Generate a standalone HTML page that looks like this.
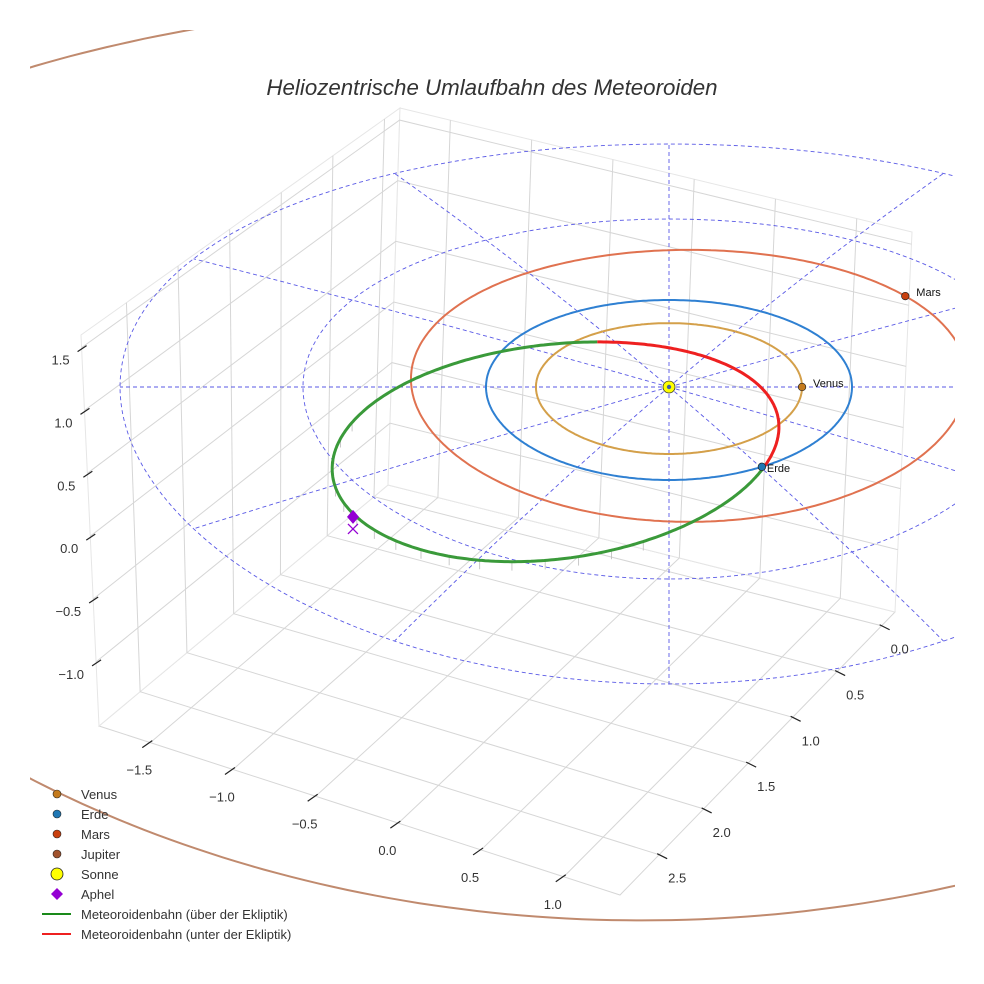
<!DOCTYPE html>
<html><head><meta charset="utf-8"><style>
html,body{margin:0;padding:0;background:#fff}
svg{display:block;font-family:"Liberation Sans",sans-serif}
</style></head><body>
<svg id="chart" width="984" height="984" viewBox="0 0 984 984" xmlns="http://www.w3.org/2000/svg">
<defs><clipPath id="clip"><rect x="30" y="30" width="925" height="925"/></clipPath></defs>
<g id="box"></g>
<g id="plot" clip-path="url(#clip)"></g>
<g id="ticks"></g>
<g id="legend"></g>
<text x="492" y="95" text-anchor="middle" font-size="22.3" font-style="italic" fill="#333">Heliozentrische Umlaufbahn des Meteoroiden</text>
</svg>
<script>
// ---- data ----
const xTicks = [-1.5, -1.0, -0.5, 0.0, 0.5, 1.0];
const yTicks = [0.0, 0.5, 1.0, 1.5, 2.0, 2.5];
const zTicks = [-1.0, -0.5, 0.0, 0.5, 1.0, 1.5];
const xTickLabels = ["\u22121.5","\u22121.0","\u22120.5","0.0","0.5","1.0"];
const yTickLabels = ["0.0","0.5","1.0","1.5","2.0","2.5"];
const zTickLabels = ["\u22121.0","\u22120.5","0.0","0.5","1.0","1.5"];
const xRange = [-1.81, 1.34];
const yRange = [-0.15, 2.94];
const zRange = [-1.51, 1.6];
const planetNames = ["Venus","Erde","Mars","Jupiter"];
const planetColors = ["#c47a1c","#1f77b4","#c9400e","#a0522d"];
const orbitColors = ["#d4a04a","#2f80d2","#e07250","#c08a6e"];
const orbitA = [0.727, 1.0, 1.52, 5.2];
const orbitDX = [0, 0, 0.11, -0.15];
const orbitDY = [0, 0, -0.09, -0.13];
const planetAngleDeg = [0, 59.5, -39, 200];
const gridRadii = [1, 2, 3];
const gridAnglesDeg = [0, 30, 60, 90, 120, 150, 180, 210, 240, 270, 300, 330];
const meteorCenter = [-0.62, 0.66];
const meteorAxis1 = [1.22, -0.26];
const meteorAxis2 = [0.04, 1.14];
const meteorBelowRange = [-1.35, 0.42];
const meteorStemT = [1.2,1.35,1.5,1.65,1.8,1.95,2.1,2.25,2.4,2.55,2.7,2.85,3.0,3.15,3.3,3.45,3.6];
const aphel = [-1.727, 1.38];

// ---- axis functions ----
const L=[99,726], B=[388,485], R=[895,612], F=[620,895];
const Lt=[81,335], Bt=[400,108], Rt=[912,232];
function lerp(a,b,t){return [a[0]+(b[0]-a[0])*t, a[1]+(b[1]-a[1])*t];}
function uX(x){return (x-xRange[0])/(xRange[1]-xRange[0]);}
function vY(y){return (yRange[1]-y)/(yRange[1]-yRange[0]);}
function wZ(z){return (z-zRange[0])/(zRange[1]-zRange[0]);}
function floorPt(x,y){const u=uX(x),v=vY(y);const a=lerp(L,F,u),b=lerp(B,R,u);return lerp(a,b,v);}
function leftWall(y,z){const v=vY(y),w=wZ(z);return lerp(lerp(L,B,v),lerp(Lt,Bt,v),w);}
function rightWall(x,z){const u=uX(x),w=wZ(z);return lerp(lerp(B,R,u),lerp(Bt,Rt,u),w);}
function project(X,Y){return [669+183*X, 387+90*Y+3*Y*Y];}

const NS="http://www.w3.org/2000/svg";
function mk(tag,attrs,parent){const e=document.createElementNS(NS,tag);for(const k in attrs)e.setAttribute(k,attrs[k]);parent.appendChild(e);return e;}
function pts(a){return a.map(p=>p[0].toFixed(1)+","+p[1].toFixed(1)).join(" ");}
const box=document.getElementById("box"), plot=document.getElementById("plot"), ticks=document.getElementById("ticks"), legend=document.getElementById("legend");
const gc="#d6d6d6";

let e;
e=mk("polygon",{points:pts([L,B,R,F]),fill:"#fff",stroke:gc,"stroke-width":1},box);


e=mk("polygon",{points:pts([L,B,Bt,Lt]),fill:"#fff",stroke:"#e6e6e6","stroke-width":1},box);


e=mk("polygon",{points:pts([B,R,Rt,Bt]),fill:"#fff",stroke:"#e6e6e6","stroke-width":1},box);


xTicks.forEach(x=>{
  e=mk("line",{x1:floorPt(x,yRange[0])[0],y1:floorPt(x,yRange[0])[1],x2:floorPt(x,yRange[1])[0],y2:floorPt(x,yRange[1])[1],stroke:gc},box);
  
  
  const a=rightWall(x,zRange[0]),b=rightWall(x,zRange[1]);
  e=mk("line",{x1:a[0],y1:a[1],x2:b[0],y2:b[1],stroke:gc},box);
  
  
});
yTicks.forEach(y=>{
  const a=floorPt(xRange[0],y),b=floorPt(xRange[1],y);
  e=mk("line",{x1:a[0],y1:a[1],x2:b[0],y2:b[1],stroke:gc},box);
  
  
  const c=leftWall(y,zRange[0]),d=leftWall(y,zRange[1]);
  e=mk("line",{x1:c[0],y1:c[1],x2:d[0],y2:d[1],stroke:gc},box);
  
  
});
zTicks.forEach(z=>{
  const a=leftWall(yRange[1],z),b=leftWall(yRange[0],z),c=rightWall(xRange[1],z);
  e=mk("polyline",{points:pts([a,b,c]),fill:"none",stroke:gc},box);
  
  
});

function tickMark(p,dx1,dy1,dx2,dy2){
  e=mk("line",{x1:p[0]+dx1,y1:p[1]+dy1,x2:p[0]+dx2,y2:p[1]+dy2,stroke:"#222","stroke-width":1.2},ticks);
  
  
}
xTicks.forEach((x,i)=>{
  const p=lerp(L,F,uX(x));
  tickMark(p,2,-2,-8,5);
  e=mk("text",{x:p[0]-11,y:p[1]+32,"text-anchor":"middle","font-size":13,fill:"#333"},ticks);
  e.textContent=xTickLabels[i];
  
  
});
yTicks.forEach((y,i)=>{
  const p=lerp(F,R,vY(y));
  tickMark(p,-2,-1,8,4);
  e=mk("text",{x:p[0]+18,y:p[1]+28,"text-anchor":"middle","font-size":13,fill:"#333"},ticks);
  e.textContent=yTickLabels[i];
  
  
});
zTicks.forEach((z,i)=>{
  const p=lerp(L,Lt,wZ(z));
  tickMark([p[0]+3,p[1]],2,-2,-7,4);
  e=mk("text",{x:p[0]-12,y:p[1]+17,"text-anchor":"end","font-size":13,fill:"#333"},ticks);
  e.textContent=zTickLabels[i];
  
  
});

const dash={fill:"none",stroke:"#5a5ae6","stroke-width":0.9,"stroke-dasharray":"4 3"};
gridRadii.forEach(r=>{
  const a=[];for(let k=0;k<=240;k++){const t=k/240*2*Math.PI;a.push(project(r*Math.cos(t),r*Math.sin(t)));}
  e=mk("polyline",Object.assign({points:pts(a)},dash),plot);
  
  
});
gridAnglesDeg.forEach(d=>{
  const t=d*Math.PI/180,a=[];const rmax=gridRadii[gridRadii.length-1];
  for(let k=0;k<=20;k++){const r=rmax*k/20;a.push(project(r*Math.cos(t),r*Math.sin(t)));}
  e=mk("polyline",Object.assign({points:pts(a)},dash),plot);
  
  
});

function orbitPt(i,t){return project(orbitDX[i]+orbitA[i]*Math.cos(t),orbitDY[i]+orbitA[i]*Math.sin(t));}
orbitA.forEach((a,i)=>{
  const arr=[];for(let k=0;k<=400;k++)arr.push(orbitPt(i,k/400*2*Math.PI));
  e=mk("polyline",{points:pts(arr),fill:"none",stroke:orbitColors[i],"stroke-width":2},plot);
  
  
});

function meteorPt(t){return project(meteorCenter[0]+meteorAxis1[0]*Math.cos(t)+meteorAxis2[0]*Math.sin(t),meteorCenter[1]+meteorAxis1[1]*Math.cos(t)+meteorAxis2[1]*Math.sin(t));}
meteorStemT.forEach(t=>{
  const p=meteorPt(t);
  e=mk("line",{x1:p[0],y1:p[1],x2:p[0],y2:p[1]+9,stroke:"#bbb","stroke-width":0.8},plot);
  
  
});
const green=[],red=[];
const t0=meteorBelowRange[0],t1=meteorBelowRange[1];
for(let k=0;k<=300;k++){const t=t1+(t0+2*Math.PI-t1)*k/300;green.push(meteorPt(t));}
for(let k=0;k<=120;k++){const t=t0+(t1-t0)*k/120;red.push(meteorPt(t));}
e=mk("polyline",{points:pts(green),fill:"none",stroke:"#3a9a3a","stroke-width":3},plot);


e=mk("polyline",{points:pts(red),fill:"none",stroke:"#ee2020","stroke-width":3},plot);



planetNames.forEach((n,i)=>{
  const p=orbitPt(i,planetAngleDeg[i]*Math.PI/180);
  e=mk("circle",{cx:p[0],cy:p[1],r:3.8,fill:planetColors[i],stroke:"#222","stroke-width":0.7},plot);
  
  
  e=mk("text",{x:p[0]+(n==="Erde"?5:11),y:p[1]+(n==="Erde"?5:0),"font-size":11,fill:"#111"},plot);
  e.textContent=n;
  
  
});
const sp=project(0,0);
e=mk("circle",{cx:sp[0],cy:sp[1],r:6,fill:"#ffff00",stroke:"#333","stroke-width":0.8},plot);


e=mk("circle",{cx:sp[0],cy:sp[1],r:2.2,fill:"#4060a0"},plot);


const ap=project(aphel[0],aphel[1]);
e=mk("polygon",{points:pts([[ap[0],ap[1]-7],[ap[0]+6,ap[1]],[ap[0],ap[1]+7],[ap[0]-6,ap[1]]]),fill:"#9400d3"},plot);


e=mk("path",{d:`M${ap[0]-5},${ap[1]+7}L${ap[0]+5},${ap[1]+17}M${ap[0]+5},${ap[1]+7}L${ap[0]-5},${ap[1]+17}`,stroke:"#9400d3","stroke-width":1.3},plot);



const legNames=["Venus","Erde","Mars","Jupiter","Sonne","Aphel","Meteoroidenbahn (über der Ekliptik)","Meteoroidenbahn (unter der Ekliptik)"];
legNames.forEach((n,i)=>{
  const y=794+20*i;
  if(i<4){e=mk("circle",{cx:57,cy:y,r:4,fill:planetColors[i],stroke:"#222","stroke-width":0.6},legend);}
  else if(i===4){e=mk("circle",{cx:57,cy:y,r:6,fill:"#ffff00",stroke:"#222","stroke-width":0.8},legend);}
  else if(i===5){e=mk("polygon",{points:pts([[57,y-6],[63,y],[57,y+6],[51,y]]),fill:"#9400d3"},legend);}
  else {e=mk("line",{x1:42,y1:y,x2:71,y2:y,stroke:i===6?"#1a8a1a":"#ee2020","stroke-width":2},legend);}
  
  
  e=mk("text",{x:81,y:y+5,"font-size":13,fill:"#333"},legend);
  e.textContent=n;
  
  
});
</script>
</body></html>
